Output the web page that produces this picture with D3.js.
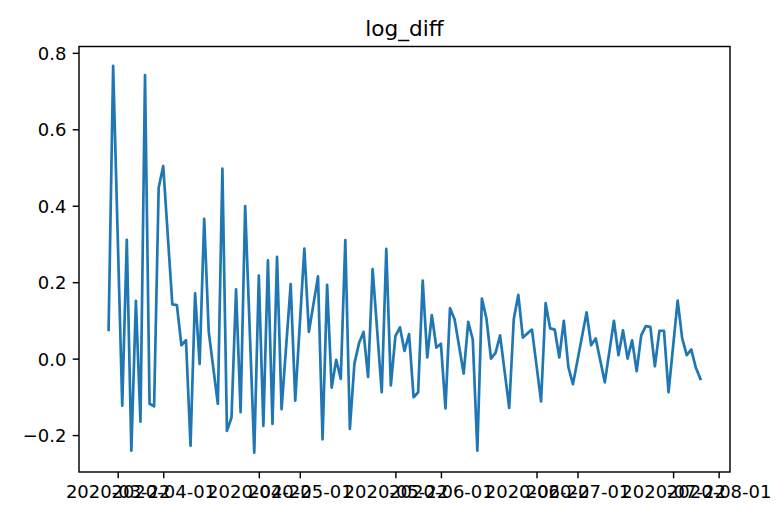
<!DOCTYPE html>
<html>
<head>
<meta charset="utf-8">
<script src="https://cdn.jsdelivr.net/npm/d3@7"></script>
<style>
  html, body { margin: 0; padding: 0; background: #ffffff; }
  svg { display: block; }
</style>
</head>
<body>
<svg id="chart" width="779" height="506"></svg>
<script>
// ---- data ----
const titleText = "log_diff";

const dates = [
  "2020-03-20","2020-03-21","2020-03-23","2020-03-24","2020-03-25","2020-03-26","2020-03-27","2020-03-28","2020-03-29","2020-03-30","2020-03-31",
  "2020-04-01","2020-04-03","2020-04-04","2020-04-05","2020-04-06","2020-04-07","2020-04-08","2020-04-09","2020-04-10","2020-04-11",
  "2020-04-13","2020-04-14","2020-04-15","2020-04-16","2020-04-17","2020-04-18","2020-04-19","2020-04-21","2020-04-22","2020-04-23",
  "2020-04-24","2020-04-25","2020-04-26","2020-04-27","2020-04-29","2020-04-30",
  "2020-05-02","2020-05-03","2020-05-05","2020-05-06","2020-05-07","2020-05-08","2020-05-09","2020-05-10","2020-05-11","2020-05-12",
  "2020-05-13","2020-05-14","2020-05-15","2020-05-16","2020-05-17","2020-05-19","2020-05-20","2020-05-21","2020-05-22","2020-05-23",
  "2020-05-24","2020-05-25","2020-05-26","2020-05-27","2020-05-28","2020-05-29","2020-05-30","2020-05-31",
  "2020-06-01","2020-06-02","2020-06-03","2020-06-04","2020-06-06","2020-06-07","2020-06-08","2020-06-09","2020-06-10","2020-06-11",
  "2020-06-12","2020-06-13","2020-06-14","2020-06-16","2020-06-17","2020-06-18","2020-06-19","2020-06-20","2020-06-21","2020-06-23",
  "2020-06-24","2020-06-25","2020-06-26","2020-06-27","2020-06-28","2020-06-29","2020-06-30",
  "2020-07-03","2020-07-04","2020-07-05","2020-07-07","2020-07-09","2020-07-10","2020-07-11","2020-07-12","2020-07-13","2020-07-14",
  "2020-07-15","2020-07-16","2020-07-17","2020-07-18","2020-07-19","2020-07-20","2020-07-21","2020-07-23","2020-07-24","2020-07-25",
  "2020-07-26","2020-07-27","2020-07-28"
];

const logDiff = [
  0.075, 0.766, -0.123, 0.311, -0.241, 0.151, -0.165, 0.742, -0.118, -0.125, 0.447,
  0.504, 0.142, 0.140, 0.035, 0.048, -0.228, 0.171, -0.014, 0.366, 0.070,
  -0.118, 0.497, -0.189, -0.154, 0.181, -0.140, 0.399, -0.246, 0.217, -0.176,
  0.257, -0.171, 0.266, -0.132, 0.195, -0.110,
  0.288, 0.070, 0.215, -0.211, 0.193, -0.076, -0.003, -0.053, 0.310, -0.184,
  -0.013, 0.040, 0.070, -0.048, 0.234, -0.088, 0.287, -0.070, 0.059, 0.082,
  0.020, 0.064, -0.101, -0.088, 0.204, 0.003, 0.114, 0.029,
  0.039, -0.130, 0.132, 0.103, -0.039, 0.096, 0.050, -0.241, 0.157, 0.105,
  0.000, 0.015, 0.061, -0.129, 0.103, 0.167, 0.055, 0.066, 0.076, -0.112,
  0.145, 0.079, 0.076, 0.003, 0.099, -0.022, -0.067,
  0.121, 0.035, 0.053, -0.062, 0.099, 0.009, 0.074, 0.000, 0.048, -0.033,
  0.061, 0.085, 0.083, -0.020, 0.073, 0.073, -0.088, 0.152, 0.053, 0.009,
  0.024, -0.024, -0.053
];

const xTickLabels = ["2020-03-22","2020-04-01","2020-04-22","2020-05-01","2020-05-22",
                     "2020-06-01","2020-06-22","2020-07-01","2020-07-22","2020-08-01"];
const yTickValues = [-0.2, 0.0, 0.2, 0.4, 0.6, 0.8];

// ---- layout ----
const W = 779, H = 506;
const plot = { left: 79, right: 730, top: 46.5, bottom: 472 };
const scaleF = 1.8;              // pt -> px factor of the reference
const tickLen = 3.5 * scaleF;
const tickPad = 3.5 * scaleF;
const fontFam = "'DejaVu Sans', 'Liberation Sans', sans-serif";

const parse = d3.timeParse("%Y-%m-%d");
const pts = dates.map((d, i) => ({ date: parse(d), value: logDiff[i] }));

// matplotlib-like 5% margins
const xExt = d3.extent(pts, d => d.date);
const xPad = (xExt[1] - xExt[0]) * 0.05;
const yExt = d3.extent(pts, d => d.value);
const yPad = (yExt[1] - yExt[0]) * 0.05;

const x = d3.scaleTime()
  .domain([new Date(+xExt[0] - xPad), new Date(+xExt[1] + xPad)])
  .range([plot.left, plot.right]);
const y = d3.scaleLinear()
  .domain([yExt[0] - yPad, yExt[1] + yPad])
  .range([plot.bottom, plot.top]);

const svg = d3.select("#chart");
svg.append("rect").attr("width", W).attr("height", H).attr("fill", "#ffffff");

// line
const line = d3.line().x(d => x(d.date)).y(d => y(d.value));
svg.append("path")
  .datum(pts)
  .attr("d", line)
  .attr("fill", "none")
  .attr("stroke", "#1f77b4")
  .attr("stroke-width", 1.5 * scaleF)
  .attr("stroke-linejoin", "round")
  .attr("stroke-linecap", "square");

// axes
const fmtY = v => d3.format(".1f")(v).replace("-", "\u2212");
const yAxis = d3.axisLeft(y)
  .tickValues(yTickValues)
  .tickFormat(fmtY)
  .tickSizeOuter(0)
  .tickSizeInner(tickLen)
  .tickPadding(tickPad);
const xAxis = d3.axisBottom(x)
  .tickValues(xTickLabels.map(parse))
  .tickFormat(d3.timeFormat("%Y-%m-%d"))
  .tickSizeOuter(0)
  .tickSizeInner(tickLen)
  .tickPadding(tickPad);

const gy = svg.append("g").attr("transform", `translate(${plot.left},0)`).call(yAxis);
const gx = svg.append("g").attr("transform", `translate(0,${plot.bottom})`).call(xAxis);

[gx, gy].forEach(g => {
  g.select(".domain").remove();
  g.selectAll(".tick line").attr("stroke", "#000").attr("stroke-width", 0.8 * scaleF);
  g.selectAll(".tick text")
    .attr("fill", "#000")
    .style("font-family", fontFam)
    .style("font-size", (10 * scaleF) + "px");
});
gx.selectAll(".tick text").attr("dy", "0.76em");
gy.selectAll(".tick text").attr("dy", "0.36em");

// spines
svg.append("rect")
  .attr("x", plot.left).attr("y", plot.top)
  .attr("width", plot.right - plot.left)
  .attr("height", plot.bottom - plot.top)
  .attr("fill", "none")
  .attr("stroke", "#000")
  .attr("stroke-width", 0.8 * scaleF);

// title
svg.append("text")
  .attr("x", (plot.left + plot.right) / 2)
  .attr("y", plot.top - 6 * scaleF)
  .attr("text-anchor", "middle")
  .style("font-family", fontFam)
  .style("font-size", (12 * scaleF) + "px")
  .attr("fill", "#000")
  .text(titleText);
</script>
</body>
</html>
